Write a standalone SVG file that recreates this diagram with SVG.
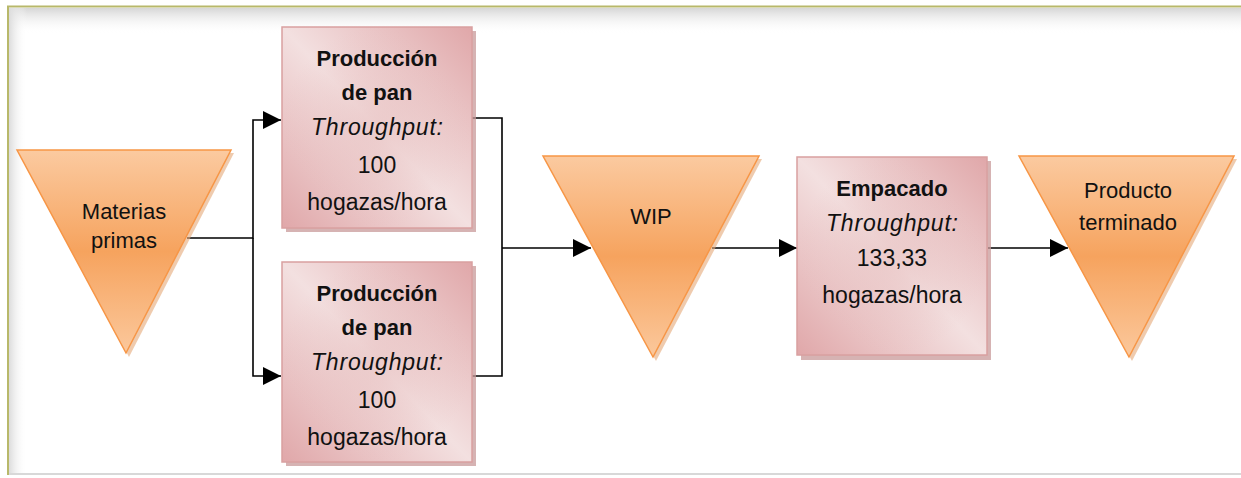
<svg xmlns="http://www.w3.org/2000/svg" width="1241" height="478" viewBox="0 0 1241 478">
  <defs>
    <linearGradient id="triFill" x1="0" y1="0" x2="0" y2="1">
      <stop offset="0" stop-color="#fbcaa0"/>
      <stop offset="0.5" stop-color="#f6a35e"/>
      <stop offset="1" stop-color="#fbc89c"/>
    </linearGradient>
    <linearGradient id="boxFill" x1="1" y1="0" x2="0" y2="1">
      <stop offset="0" stop-color="#e0a7a9"/>
      <stop offset="0.5" stop-color="#f3e0e0"/>
      <stop offset="1" stop-color="#e0a7a9"/>
    </linearGradient>
    <radialGradient id="boxGlow" cx="0.5" cy="0.5" r="0.5">
      <stop offset="0" stop-color="#e6bcbc" stop-opacity="0.55"/>
      <stop offset="1" stop-color="#e6bcbc" stop-opacity="0"/>
    </radialGradient>
    <linearGradient id="topShade" x1="0" y1="0" x2="0" y2="1">
      <stop offset="0" stop-color="#d6d6d6"/>
      <stop offset="1" stop-color="#ffffff" stop-opacity="0"/>
    </linearGradient>
    <linearGradient id="leftShade" x1="0" y1="0" x2="1" y2="0">
      <stop offset="0" stop-color="#dcdcdc"/>
      <stop offset="1" stop-color="#ffffff" stop-opacity="0"/>
    </linearGradient>
    <marker id="arrow" viewBox="0 0 10 10" refX="10" refY="5" markerWidth="18" markerHeight="18" markerUnits="userSpaceOnUse" orient="auto">
      <path d="M0,0 L10,5 L0,10 Z" fill="#000"/>
    </marker>
    <style>
      .tri { fill: url(#triFill); stroke: #f79646; stroke-width: 1.5; }
      .triShadow { fill: #e4a878; opacity: 0.6; }
      .box { fill: url(#boxFill); stroke: #d9a0a0; stroke-width: 1.5; }
      .glow { fill: url(#boxGlow); }
      .boxShadow { fill: #c89a9a; opacity: 0.75; }
      .lbl { font-family: "Liberation Sans", Arial, sans-serif; font-size: 22px; fill: #111; text-anchor: middle; dominant-baseline: central; }
      .bt { font-family: "Liberation Sans", Arial, sans-serif; font-size: 23px; fill: #111; text-anchor: middle; dominant-baseline: central; }
      .b { font-weight: bold; font-size: 22px; }
      .i { font-style: italic; }
      .conn { fill: none; stroke: #000; stroke-width: 1.6; }
    </style>
  </defs>

  <!-- page frame -->
  <rect x="0" y="0" width="1241" height="478" fill="#ffffff"/>
  <rect x="9" y="8" width="1232" height="26" fill="url(#topShade)"/>
  <rect x="9" y="8" width="18" height="466" fill="url(#leftShade)"/>
  <line x1="8" y1="474" x2="1241" y2="474" stroke="#d8d8d8" stroke-width="2"/>
  <path d="M8,475 L8,6.5 L1241,6.5" fill="none" stroke="#b8b86a" stroke-width="2"/>

  <!-- connectors -->
  <g id="connectors">
    <path class="conn" d="M187,238 H253 V120 H281" marker-end="url(#arrow)"/>
    <path class="conn" d="M253,238 V376 H281" marker-end="url(#arrow)"/>
    <path class="conn" d="M472,118 H502 V376 H472"/>
    <path class="conn" d="M502,248 H591" marker-end="url(#arrow)"/>
    <path class="conn" d="M712,248 H797" marker-end="url(#arrow)"/>
    <path class="conn" d="M988,248 H1068" marker-end="url(#arrow)"/>
  </g>

  <!-- inventory: raw materials -->
  <g id="materias-primas">
    <polygon class="triShadow" points="20,153 234,153 129,357"/>
    <polygon class="tri" points="17,150 231,150 126,353"/>
    <text class="lbl" x="124" y="211">Materias</text>
    <text class="lbl" x="124" y="240">primas</text>
  </g>

  <!-- bread production line 1 -->
  <g id="produccion-1">
    <rect class="boxShadow" x="286" y="31" width="190" height="201"/>
    <rect class="box" x="282" y="27" width="190" height="201"/>
    <rect class="glow" x="282" y="27" width="190" height="201"/>
    <text class="bt b" x="377" y="58">Producción</text>
    <text class="bt b" x="377" y="92">de pan</text>
    <text class="bt i" x="377" y="127" textLength="132">Throughput:</text>
    <text class="bt" x="377" y="165">100</text>
    <text class="bt" x="377" y="202">hogazas/hora</text>
  </g>

  <!-- bread production line 2 -->
  <g id="produccion-2">
    <rect class="boxShadow" x="286" y="266" width="190" height="200"/>
    <rect class="box" x="282" y="262" width="190" height="200"/>
    <rect class="glow" x="282" y="262" width="190" height="200"/>
    <text class="bt b" x="377" y="293">Producción</text>
    <text class="bt b" x="377" y="327">de pan</text>
    <text class="bt i" x="377" y="362" textLength="132">Throughput:</text>
    <text class="bt" x="377" y="400">100</text>
    <text class="bt" x="377" y="437">hogazas/hora</text>
  </g>

  <!-- work in progress -->
  <g id="wip">
    <polygon class="triShadow" points="546,159 762,159 656,361"/>
    <polygon class="tri" points="543,156 759,156 653,357"/>
    <text class="lbl" x="651" y="216">WIP</text>
  </g>

  <!-- packaging -->
  <g id="empacado">
    <rect class="boxShadow" x="801" y="161" width="190" height="199"/>
    <rect class="box" x="797" y="157" width="190" height="198"/>
    <rect class="glow" x="797" y="157" width="190" height="198"/>
    <text class="bt b" x="892" y="188">Empacado</text>
    <text class="bt i" x="892" y="223" textLength="132">Throughput:</text>
    <text class="bt" x="892" y="258">133,33</text>
    <text class="bt" x="892" y="295">hogazas/hora</text>
  </g>

  <!-- inventory: finished goods -->
  <g id="producto-terminado">
    <polygon class="triShadow" points="1022,159 1237,159 1132,361"/>
    <polygon class="tri" points="1019,156 1234,156 1129,357"/>
    <text class="lbl" x="1128" y="190">Producto</text>
    <text class="lbl" x="1128" y="222">terminado</text>
  </g>
</svg>
